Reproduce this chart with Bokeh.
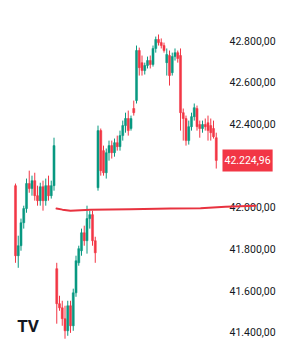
from bokeh.plotting import figure
from bokeh.models import Range1d, Label, ColumnDataSource
from bokeh.embed import file_html
from bokeh.resources import INLINE
from bokeh.core.properties import value

# OHLC per candle (index order)
opens = [42104, 41768, 41816, 41926, 41994, 42114, 42090, 42128, 42056, 42032, 42099, 42032, 42104, 42056, 42104,
         41706, 41538, 41518, 41466, 41408, 41528, 41432, 41590, 41734, 41792, 41878, 41840, 41946, 41965, 41840,
         42094, 42368, 42272, 42166, 42262, 42296, 42262, 42310, 42291, 42344, 42392, 42426, 42378, 42474, 42512,
         42752, 42694, 42656, 42680, 42704, 42685, 42762, 42805, 42790, 42776, 42694, 42728, 42646, 42723, 42742,
         42728, 42454, 42426, 42320, 42387, 42435, 42474, 42397, 42378, 42397, 42406, 42392, 42378, 42334]
highs = [42114, 41864, 41946, 42008, 42138, 42176, 42152, 42166, 42104, 42118, 42128, 42138, 42152, 42128, 42334,
         41734, 41576, 41552, 41528, 41552, 41552, 41610, 41768, 41816, 41898, 41912, 42008, 41984, 41984, 41859,
         42392, 42378, 42296, 42282, 42320, 42320, 42330, 42344, 42368, 42416, 42454, 42464, 42440, 42512, 42776,
         42766, 42728, 42694, 42723, 42728, 42776, 42819, 42829, 42810, 42790, 42762, 42752, 42742, 42762, 42752,
         42762, 42474, 42440, 42416, 42454, 42498, 42488, 42416, 42416, 42426, 42440, 42426, 42416, 42358]
lows = [41734, 41710, 41792, 41898, 41974, 42070, 42056, 42032, 42008, 42008, 41984, 42008, 42032, 42042, 42080,
        41442, 41504, 41432, 41370, 41384, 41398, 41408, 41571, 41720, 41768, 41816, 41778, 41898, 41816, 41734,
        42080, 42152, 42152, 42138, 42224, 42234, 42243, 42272, 42272, 42320, 42358, 42344, 42368, 42440, 42498,
        42632, 42632, 42637, 42666, 42666, 42675, 42742, 42776, 42762, 42742, 42632, 42584, 42632, 42704, 42694,
        42368, 42320, 42296, 42301, 42368, 42416, 42368, 42334, 42358, 42368, 42320, 42320, 42330, 42186]
closes = [41768, 41816, 41926, 41994, 42114, 42090, 42128, 42056, 42032, 42099, 42032, 42104, 42056, 42104, 42296,
          41538, 41518, 41466, 41408, 41528, 41432, 41590, 41744, 41802, 41878, 41840, 41946, 41965, 41840, 41782,
          42368, 42176, 42166, 42262, 42296, 42262, 42310, 42291, 42344, 42392, 42426, 42368, 42426, 42454, 42752,
          42670, 42656, 42680, 42704, 42685, 42762, 42805, 42790, 42776, 42752, 42733, 42632, 42723, 42742, 42714,
          42454, 42426, 42320, 42387, 42435, 42478, 42387, 42378, 42397, 42387, 42368, 42358, 42339, 42224.96]

# hand-drawn support line (x in candle index units, price)
line_x = [14.91, 17.09, 20.0, 23.64, 27.27, 41.82, 56.36, 67.27, 76.36, 87.27]
line_y = [41994, 41989, 41984, 41986, 41989, 41991, 41994, 41996, 42003, 42008]

tick_values = [42800, 42600, 42400, 42000, 41800, 41600, 41400]
last_price = 42224.96

UP = "#089981"
DOWN = "#f23645"


def fmt(v):
    s = f"{v:,.2f}"
    return s.replace(",", "X").replace(".", ",").replace("X", ".")


n = len(opens)
xs = list(range(n))
colors = [UP if c >= o else DOWN for o, c in zip(opens, closes)]
tops = [max(o, c) for o, c in zip(opens, closes)]
bots = [min(o, c) for o, c in zip(opens, closes)]
src = ColumnDataSource(dict(x=xs, o=opens, h=highs, l=lows, c=closes, top=tops, bot=bots, color=colors))

p = figure(width=300, height=343, output_backend="svg", toolbar_location=None,
           x_axis_location=None, y_axis_location=None,
           x_range=Range1d(-5.4545, 103.636), y_range=Range1d(41347, 42992),
           min_border=0, min_border_left=0, min_border_right=0, min_border_top=0, min_border_bottom=0)
p.outline_line_color = None
p.xgrid.visible = False
p.ygrid.visible = False
p.background_fill_color = "white"
p.border_fill_color = "white"

p.segment(x0="x", y0="h", x1="x", y1="l", color="color", line_width=1, source=src)
p.vbar(x="x", top="top", bottom="bot", width=0.75, fill_color="color", line_color="color",
       line_width=0.5, source=src)

# price scale labels
lab_src = ColumnDataSource(dict(x=[77.82] * len(tick_values), y=tick_values,
                                t=[fmt(v) for v in tick_values]))
p.text(x="x", y="y", text="t", source=lab_src, text_font=value("Roboto"),
       text_font_size="10.5px", text_color="#131722", text_baseline="middle", text_align="left")

# red drawn line
p.line(line_x, line_y, line_color="#e8323f", line_width=2, line_cap="round", line_join="round")

# last price label
p.add_layout(Label(x=75.27, y=last_price, text=fmt(last_price), text_color="white",
                   text_font="Roboto", text_font_size="10.5px", text_baseline="middle",
                   background_fill_color=DOWN, padding=(2, 7)))

# logo
p.add_layout(Label(x=0.6, y=41432, text="TV", text_color="#131722", text_font="Roboto",
                   text_font_style="bold", text_font_size="17px", text_baseline="middle"))

open("out.html", "w").write(file_html(p, INLINE))
